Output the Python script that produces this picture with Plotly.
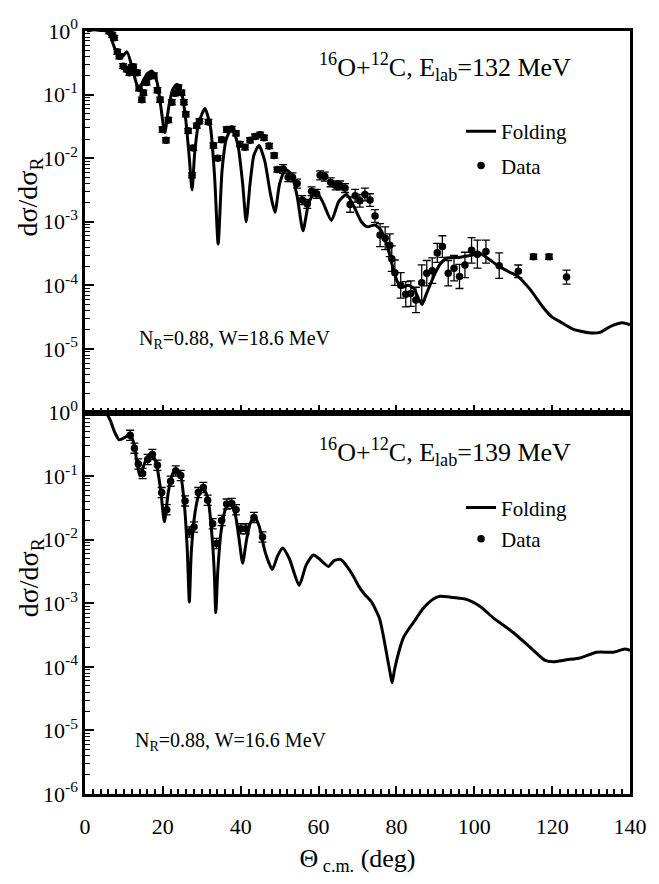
import plotly.graph_objects as go

# ---------------- data: 16O+12C, Elab = 132 MeV (top panel) ----------------
fold132_deg = [0.5, 2.5, 4, 5.5, 6.5, 7.2, 8.3, 9.3, 10.8, 12, 13, 13.8, 14.8, 16, 17.2,
               18.5, 19.5, 20.5, 21.5, 22.5, 23.6, 24.8, 25.8, 26.8, 27.5, 28.2, 29.2,
               30.8, 32.2, 33.3, 34.2, 35.2, 36.3, 37.8, 39.3, 40.5, 41.4, 42.4, 43.4,
               44.7, 46.2, 47.6, 48.8, 50.0, 51.5, 53, 54.5, 56, 57.5, 59.3, 61, 63.3,
               65.2, 67.2, 69, 71, 72.5, 74.5, 76, 77.5, 79, 80.3, 81.5, 83, 84.5, 85.6,
               86.6, 87.6, 88.6, 90, 91.3, 93, 96, 99, 101.5, 104, 106.6, 109, 111.2,
               114.3, 117.6, 120, 122, 125, 127.1, 130, 132.3, 134, 135.6, 138, 140]
fold132_val = [1.0, 1.05, 1.02, 1.0, 0.83, 0.63, 0.43, 0.38, 0.47, 0.28, 0.166, 0.12, 0.158,
               0.214, 0.234, 0.158, 6.31e-2, 2.51e-2, 6.31e-2, 0.12, 0.145, 0.107, 4.47e-2,
               1.0e-2, 3.16e-3, 1.26e-2, 3.55e-2, 6.03e-2, 3.16e-2, 5.01e-3, 4.47e-4,
               6.31e-3, 2.0e-2, 3.02e-2, 1.58e-2, 3.98e-3, 1.0e-3, 3.98e-3, 1.12e-2,
               1.58e-2, 8.91e-3, 2.82e-3, 1.41e-3, 3.98e-3, 6.61e-3, 5.62e-3, 2.51e-3,
               7.24e-4, 2.0e-3, 3.02e-3, 2.09e-3, 1.05e-3, 2.09e-3, 2.69e-3, 1.78e-3,
               1.0e-3, 8.32e-4, 8.91e-4, 7.41e-4, 4.47e-4, 2.0e-4, 1.12e-4, 9.33e-5,
               1.0e-4, 8.91e-5, 6.31e-5, 5.01e-5, 7.08e-5, 1.0e-4, 1.58e-4, 2.19e-4,
               2.69e-4, 2.75e-4, 2.95e-4, 3.16e-4, 2.51e-4, 1.95e-4, 1.62e-4, 1.38e-4,
               8.71e-5, 4.57e-5, 3.16e-5, 2.69e-5, 2.09e-5, 1.91e-5, 1.78e-5, 1.82e-5,
               2.09e-5, 2.34e-5, 2.57e-5, 2.40e-5]

data132_deg = [6.2, 7.0, 7.5, 8.3, 8.8, 9.8, 10.7, 11.4, 12.0, 12.4,
               13.4, 13.9, 14.6, 15.0, 15.8, 16.7, 17.7, 18.6, 19.3, 19.9,
               20.8, 21.4, 22.3, 23.1, 24.0, 24.8, 25.4, 25.9, 26.5, 27.5,
               27.8, 28.7, 29.4, 31.7, 33.0, 34.1, 35.1, 36.4, 37.7, 38.8,
               39.8, 41.1, 42.4, 43.7, 45.0, 46.0, 47.3, 48.6, 49.4, 50.9,
               52.2, 53.3, 54.5, 55.8, 57.1, 58.2, 59.5, 60.4, 61.6, 63.1,
               64.4, 65.5, 66.8, 68.1, 69.4, 70.6, 71.9, 73.2, 74.5, 75.8,
               77.1, 78.3, 78.8, 79.6, 81.1, 82.4, 83.7, 85.0, 86.5, 87.8,
               89.2, 90.5, 91.8, 93.3, 94.8, 96.2, 97.6, 99.3, 100.8, 103.0,
               106.4, 111.3, 115.2, 119.2, 123.7]
data132_val = [0.99, 0.87, 0.78, 0.47, 0.40, 0.28, 0.25, 0.22, 0.27, 0.275,
               0.22, 0.126, 8.3e-2, 0.107, 0.155, 0.195, 0.20, 0.117, 8.3e-2, 2.82e-2,
               1.91e-2, 3.98e-2, 7.59e-2, 0.105, 0.129, 0.107, 7.59e-2, 4.9e-2, 2.69e-2, 5.37e-3,
               1.45e-2, 3.24e-2, 3.8e-2, 3.72e-2, 1.58e-2, 1.0e-2, 1.95e-2, 2.82e-2, 2.88e-2, 2.45e-2,
               1.66e-2, 1.48e-2, 1.91e-2, 2.19e-2, 2.34e-2, 2.09e-2, 1.55e-2, 1.10e-2, 6.61e-3, 6.76e-3,
               5.01e-3, 5.01e-3, 3.98e-3, 2.19e-3, 1.91e-3, 3.02e-3, 2.75e-3, 5.37e-3, 5.13e-3, 4.17e-3,
               3.72e-3, 3.72e-3, 3.39e-3, 1.86e-3, 2.57e-3, 2.14e-3, 2.69e-3, 2.19e-3, 1.23e-3, 6.17e-4,
               5.5e-4, 4.27e-4, 2.63e-4, 1.58e-4, 1.0e-4, 7.24e-5, 7.41e-5, 5.89e-5, 1.10e-4, 1.55e-4,
               1.70e-4, 3.24e-4, 4.07e-4, 1.55e-4, 1.86e-4, 1.38e-4, 2.09e-4, 3.55e-4, 3.09e-4, 3.39e-4,
               2.04e-4, 1.66e-4, 2.82e-4, 2.82e-4, 1.35e-4]
# error bar half-length in decades
data132_err = [0.04, 0.04, 0.04, 0.04, 0.04, 0.04, 0.04, 0.04, 0.04, 0.04,
               0.04, 0.04, 0.04, 0.04, 0.04, 0.04, 0.04, 0.04, 0.04, 0.04,
               0.04, 0.04, 0.04, 0.04, 0.04, 0.04, 0.04, 0.04, 0.04, 0.04,
               0.04, 0.04, 0.04, 0.04, 0.04, 0.04, 0.04, 0.04, 0.04, 0.04,
               0.04, 0.04, 0.04, 0.04, 0.04, 0.04, 0.04, 0.04, 0.04, 0.07,
               0.07, 0.07, 0.07, 0.07, 0.07, 0.07, 0.07, 0.07, 0.07, 0.07,
               0.07, 0.07, 0.07, 0.12, 0.10, 0.10, 0.10, 0.10, 0.10, 0.18,
               0.18, 0.18, 0.20, 0.20, 0.20, 0.20, 0.20, 0.20, 0.28, 0.20,
               0.20, 0.15, 0.17, 0.20, 0.20, 0.19, 0.20, 0.20, 0.22, 0.18,
               0.20, 0.10, 0.04, 0.04, 0.11]

# ---------------- data: 16O+12C, Elab = 139 MeV (bottom panel) ----------------
fold139_deg = [0.5, 3, 5.3, 6.4, 7.7, 8.8, 10.3, 11.6, 12.6, 13.4, 14.1, 15.0, 16, 17.1,
               18.3, 19.4, 20.4, 21.4, 22.4, 23.4, 24.6, 25.6, 26.3, 26.8, 27.3, 28.2,
               29.2, 30.4, 31.7, 32.7, 33.2, 33.6, 34.1, 35, 36.2, 37.4, 38.6, 39.6,
               40.5, 41.5, 42.5, 43.6, 44.8, 46.3, 48.1, 49.5, 50.8, 52.5, 55, 56.8,
               58.7, 60.5, 62.5, 64, 65.7, 67.3, 68.9, 70.3, 71.7, 73.6, 75.6, 76.6,
               77.5, 78.4, 78.9, 79.5, 80.5, 81.8, 83, 84.3, 86.9, 89.5, 91.2, 94.6,
               98, 101.5, 104.9, 110, 114.3, 118.2, 120.3, 123.7, 127.2, 131.4, 135.7,
               138.7, 140]
fold139_val = [1.0, 1.0, 0.98, 0.776, 0.479, 0.372, 0.407, 0.457, 0.316, 0.158, 0.1, 0.141,
               0.2, 0.229, 0.158, 6.31e-2, 1.91e-2, 5.62e-2, 0.105, 0.132, 0.1, 3.16e-2,
               6.31e-3, 1.05e-3, 6.31e-3, 2.51e-2, 5.01e-2, 6.76e-2, 3.98e-2, 1.0e-2,
               3.16e-3, 7.08e-4, 3.16e-3, 1.41e-2, 3.16e-2, 3.8e-2, 2.51e-2, 1.0e-2,
               4.27e-3, 1.0e-2, 1.86e-2, 2.29e-2, 1.58e-2, 6.31e-3, 3.39e-3, 5.62e-3,
               7.41e-3, 5.01e-3, 1.91e-3, 3.98e-3, 5.75e-3, 4.79e-3, 3.8e-3, 4.68e-3,
               4.9e-3, 3.8e-3, 2.69e-3, 1.86e-3, 1.41e-3, 1.05e-3, 5.89e-4, 3.16e-4,
               1.58e-4, 7.94e-5, 5.62e-5, 8.91e-5, 1.62e-4, 2.88e-4, 3.8e-4, 4.9e-4,
               8.32e-4, 1.17e-3, 1.29e-3, 1.23e-3, 1.15e-3, 8.91e-4, 5.89e-4, 3.47e-4,
               2.04e-4, 1.26e-4, 1.2e-4, 1.29e-4, 1.38e-4, 1.70e-4, 1.70e-4, 1.91e-4,
               1.82e-4]

data139_deg = [11.6, 12.7, 13.7, 14.8, 16.1, 17.3, 18.6, 19.7, 21.0, 22.0,
               23.3, 24.6, 25.7, 26.8, 28.0, 29.1, 30.4, 31.5, 32.8, 33.8,
               35.1, 36.4, 37.7, 38.8, 40.0, 41.3, 43.4, 45.6]
data139_val = [0.437, 0.275, 0.155, 0.110, 0.182, 0.219, 0.148, 5.5e-2, 2.95e-2, 8.32e-2,
               0.120, 0.102, 4.07e-2, 1.32e-2, 1.58e-2, 5.5e-2, 6.61e-2, 4.17e-2, 1.78e-2, 8.71e-3,
               2.0e-2, 3.63e-2, 3.72e-2, 2.95e-2, 1.48e-2, 1.48e-2, 2.24e-2, 1.10e-2]
data139_err = [0.08, 0.08, 0.08, 0.08, 0.08, 0.08, 0.08, 0.08, 0.08, 0.08,
               0.08, 0.08, 0.08, 0.08, 0.08, 0.08, 0.08, 0.08, 0.08, 0.08,
               0.08, 0.08, 0.08, 0.08, 0.08, 0.08, 0.08, 0.08]

x_ticks = [0, 20, 40, 60, 80, 100, 120, 140]
y_exps_top = [0, -1, -2, -3, -4, -5]
y_exps_bot = [0, -1, -2, -3, -4, -5, -6]

FONT = "Liberation Serif"


def err_arrays(vals, decs):
    plus = [v * (10 ** d - 1) for v, d in zip(vals, decs)]
    minus = [v * (1 - 10 ** (-d)) for v, d in zip(vals, decs)]
    return plus, minus


fig = go.Figure()

p132, m132 = err_arrays(data132_val, data132_err)
p139, m139 = err_arrays(data139_val, data139_err)

fig.add_trace(go.Scatter(x=fold132_deg, y=fold132_val, mode="lines", name="Folding",
                         line=dict(color="black", width=3, shape="spline", smoothing=0.6),
                         xaxis="x", yaxis="y", legend="legend", legendgroup="a"))
fig.add_trace(go.Scatter(x=data132_deg, y=data132_val, mode="markers", name="Data",
                         marker=dict(color="black", size=7.5),
                         error_y=dict(type="data", array=p132, arrayminus=m132,
                                      color="black", thickness=1.3, width=4),
                         xaxis="x", yaxis="y", legend="legend", legendgroup="b"))
fig.add_trace(go.Scatter(x=fold139_deg, y=fold139_val, mode="lines", name="Folding",
                         line=dict(color="black", width=3, shape="spline", smoothing=0.6),
                         xaxis="x2", yaxis="y2", legend="legend2", legendgroup="c"))
fig.add_trace(go.Scatter(x=data139_deg, y=data139_val, mode="markers", name="Data",
                         marker=dict(color="black", size=7.5),
                         error_y=dict(type="data", array=p139, arrayminus=m139,
                                      color="black", thickness=1.3, width=4),
                         xaxis="x2", yaxis="y2", legend="legend2", legendgroup="d"))


def minor_vals(lo, hi):
    out = []
    for e in range(lo, hi):
        for m in range(2, 10):
            out.append(m * 10.0 ** e)
    return out


xcommon = dict(range=[0, 140], showline=True, linecolor="black", linewidth=2.5, mirror=True,
               ticks="inside", ticklen=8, tickwidth=1.8, tickcolor="black", dtick=20, tick0=0,
               minor=dict(ticks="inside", ticklen=5, tickwidth=1.5, tickcolor="black", dtick=2),
               showgrid=False, zeroline=False,
               tickfont=dict(family=FONT, size=22, color="black"))
ycommon = dict(type="log", range=[-6, 0], showline=True, linecolor="black", linewidth=2.5,
               mirror=True, ticks="inside", ticklen=9, tickwidth=2, tickcolor="black",
               showgrid=False, zeroline=False,
               minor=dict(ticks="inside", ticklen=5, tickwidth=1.3, tickcolor="black",
                          tickmode="array", tickvals=minor_vals(-6, 0)),
               tickfont=dict(family=FONT, size=22, color="black"))

# the page body has an 8px margin, so the figure is sized to fit the window
fig.update_layout(
    width=651, height=868,
    margin=dict(l=77, r=29, t=7, b=79),
    paper_bgcolor="white", plot_bgcolor="white",
    font=dict(family=FONT, color="black"),
    xaxis=dict(xcommon, anchor="y", showticklabels=False),
    yaxis=dict(ycommon, domain=[0.5, 1.0], anchor="x", tickmode="array",
               tickvals=[10.0 ** e for e in y_exps_top],
               ticktext=["10<sup>%d</sup>" % e for e in y_exps_top]),
    xaxis2=dict(xcommon, anchor="y2", tickmode="array", tickvals=x_ticks,
                ticktext=[str(t) for t in x_ticks], ticklabelstandoff=11,
                title=dict(text="Θ<sub> c.m.</sub> (deg)",
                           font=dict(family=FONT, size=26, color="black"), standoff=12)),
    yaxis2=dict(ycommon, domain=[0.0, 0.5], anchor="x2", tickmode="array",
                tickvals=[10.0 ** e for e in y_exps_bot],
                ticktext=["10<sup>%d</sup>" % e for e in y_exps_bot]),
    legend=dict(x=0.69, y=0.895, xanchor="left", yanchor="top", bgcolor="rgba(0,0,0,0)",
                font=dict(family=FONT, size=21, color="black"), traceorder="grouped",
                tracegroupgap=4),
    legend2=dict(x=0.69, y=0.402, xanchor="left", yanchor="top", bgcolor="rgba(0,0,0,0)",
                 font=dict(family=FONT, size=21, color="black"), traceorder="grouped",
                 tracegroupgap=1),
    showlegend=True,
)

ann_font = dict(family=FONT, size=26, color="black")
small_font = dict(family=FONT, size=20, color="black")
fig.add_annotation(xref="paper", yref="paper", x=0.4257, y=0.9527, xanchor="left",
                   yanchor="middle", showarrow=False, font=ann_font,
                   text="<sup>16</sup>O+<sup>12</sup>C, E<sub>lab</sub>=132 MeV")
fig.add_annotation(xref="paper", yref="paper", x=0.4257, y=0.4476, xanchor="left",
                   yanchor="middle", showarrow=False, font=ann_font,
                   text="<sup>16</sup>O+<sup>12</sup>C, E<sub>lab</sub>=139 MeV")
fig.add_annotation(xref="paper", yref="paper", x=0.0954, y=0.5960, xanchor="left",
                   yanchor="middle", showarrow=False, font=small_font,
                   text="N<sub>R</sub>=0.88, W=18.6 MeV")
fig.add_annotation(xref="paper", yref="paper", x=0.088, y=0.0691, xanchor="left",
                   yanchor="middle", showarrow=False, font=small_font,
                   text="N<sub>R</sub>=0.88, W=16.6 MeV")
for yc in (0.783, 0.284):
    fig.add_annotation(xref="paper", yref="paper", x=-0.101, y=yc, xanchor="center",
                       yanchor="middle", showarrow=False, textangle=-90,
                       font=dict(family=FONT, size=28, color="black"),
                       text="dσ/dσ<sub>R</sub>")

fig.write_html("out.html")
